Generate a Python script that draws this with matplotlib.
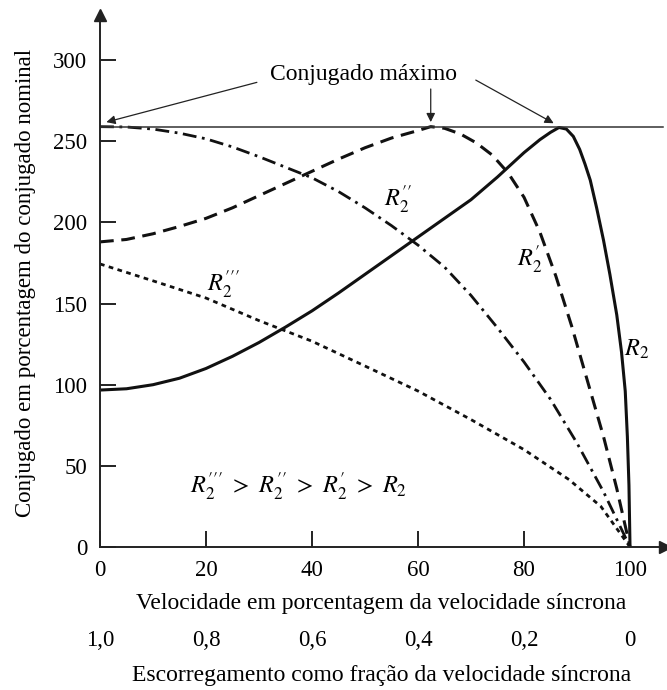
import matplotlib.pyplot as plt

plt.rcParams['font.family'] = ['Liberation Serif', 'DejaVu Serif']
plt.rcParams['mathtext.fontset'] = 'stix'

# -- data (x = speed %, y = torque %)
r2_x = [0, 5, 10, 15, 20, 25, 30, 35, 40, 45, 50, 55, 60, 65, 70, 75, 80, 83, 85, 86.6,
        88, 89.3, 90.5, 91.5, 92.5, 93.7, 95, 96.2, 97.5, 98.4, 99.1, 99.5, 99.8, 100]
r2_y = [96.7, 97.5, 100, 104, 110, 117.5, 126, 135.5, 145.5, 156.5, 168, 179.5, 191, 202.5, 214, 228, 243, 251, 255.5, 258.5,
        257.5, 253, 245, 236, 226, 209, 189, 168, 143, 120, 96, 68, 38, 0]

r2p_x = [0, 5, 10, 15, 20, 25, 30, 35, 40, 45, 50, 55, 60, 62.4, 65, 68, 71, 74, 77, 80, 83, 86, 89, 92, 95, 97.5, 100]
r2p_y = [188, 189.5, 193, 197.5, 202.5, 209, 216.5, 224, 231.5, 239, 246, 252, 256.6, 259, 258, 254.5, 249, 241.5, 230.5,
         215.5, 194, 167, 136, 102, 68, 36, 0]

r2pp_x = [0, 5, 10, 15, 20, 25, 30, 35, 40, 45, 50, 55, 60, 65, 70, 75, 80, 85, 90, 95, 100]
r2pp_y = [259, 258.8, 257.5, 255, 251.5, 246.5, 240.5, 234, 227.5, 219, 209, 198, 186, 172.5, 155, 135, 114, 91, 64, 34, 0]

r2ppp_x = [0, 10, 20, 30, 40, 50, 60, 70, 80, 88.5, 94.5, 100]
r2ppp_y = [174.4, 164, 153.4, 139.5, 126.8, 111.5, 96.1, 78.5, 60, 41.5, 25, 0]

max_torque = 259

x_ticks = [0, 20, 40, 60, 80, 100]
y_ticks = [0, 50, 100, 150, 200, 250, 300]
slip_labels = ['1,0', '0,8', '0,6', '0,4', '0,2', '0']

W, H = 667, 690
fig = plt.figure(figsize=(W / 100, H / 100), dpi=100)
# x=0 at px 100, x=100 at px 630 ; y=0 at px 547, y=300 at px 60
x_end = 106.6
y_end = 327.8
ax = fig.add_axes([100 / W, (H - 547) / H, 565 / W, 532 / H])
ax.set_xlim(0, x_end)
ax.set_ylim(0, y_end)

for s in ['top', 'right']:
    ax.spines[s].set_visible(False)
for s in ['left', 'bottom']:
    ax.spines[s].set_linewidth(1.4)
    ax.spines[s].set_color('#222222')

# axis arrow heads
ax.plot(1, 0, '>', color='#222222', ms=8, transform=ax.get_yaxis_transform(), clip_on=False)
ax.plot(0, 1, '^', color='#222222', ms=8, transform=ax.get_xaxis_transform(), clip_on=False)

fs = 16.5
ax.set_xticks(x_ticks)
ax.set_yticks(y_ticks)
ax.tick_params(direction='in', length=11.5, width=1.4, color='#222222', labelsize=fs, pad=9)

# curves
ax.plot(r2_x, r2_y, color='#111111', lw=2.2, solid_capstyle='round', solid_joinstyle='round')
ax.plot(r2p_x, r2p_y, color='#111111', lw=2.2, dashes=(4.5, 2.5))
ax.plot(r2pp_x, r2pp_y, color='#111111', lw=2.0, dashes=(5, 2, 1, 2))
ax.plot(r2ppp_x, r2ppp_y, color='#111111', lw=2.0, dashes=(1.7, 1.6))

ax.axhline(max_torque, xmin=0, xmax=106.2 / x_end, color='#333333', lw=1.1)

# annotations
ax.text(49.7, 291, 'Conjugado máximo', ha='center', va='center', fontsize=fs + 0.5)
arr = dict(arrowstyle='-|>', lw=0.9, color='#222222', mutation_scale=13, shrinkA=0, shrinkB=0)
ax.annotate('', xy=(1.2, 261.8), xytext=(29.6, 286.3), arrowprops=arr)
ax.annotate('', xy=(62.4, 261.8), xytext=(62.4, 282.2), arrowprops=arr)
ax.annotate('', xy=(85.6, 261.1), xytext=(70.9, 287.7), arrowprops=arr)

ax.text(56.3, 213.7, r'$R_2^{\prime\prime}$', ha='center', va='center', fontsize=fs + 1)
ax.text(81.0, 177.0, r'$R_2^{\prime}$', ha='center', va='center', fontsize=fs + 1)
ax.text(101.3, 122.0, r'$R_2$', ha='center', va='center', fontsize=fs + 1)
ax.text(23.4, 161.6, r'$R_2^{\prime\prime\prime}$', ha='center', va='center', fontsize=fs + 1)
ax.text(37.5, 37.0, r"$R_2^{\prime\prime\prime}\ >\ R_2^{\prime\prime}\ >\ R_2^{\prime}\ >\ R_2$",
        ha='center', va='center', fontsize=fs + 1)

# axis labels and the slip scale
ax.text(-0.131, 163, 'Conjugado em porcentagem do conjugado nominal', rotation=90,
        ha='center', va='center', fontsize=fs, transform=ax.get_yaxis_transform())
fig.text(381 / W, 1 - 603 / H, 'Velocidade em porcentagem da velocidade síncrona',
         ha='center', va='center', fontsize=fs + 0.5)
for xv, lab in zip(x_ticks, slip_labels):
    ax.annotate(lab, xy=(xv, 0), xycoords='data', xytext=(0, -94 * 0.72), textcoords='offset points',
                ha='center', va='center', fontsize=fs)
fig.text(382 / W, 1 - 676 / H, 'Escorregamento como fração da velocidade síncrona',
         ha='center', va='center', fontsize=fs + 0.5)

fig.savefig('out.png', dpi=100, facecolor='white')
